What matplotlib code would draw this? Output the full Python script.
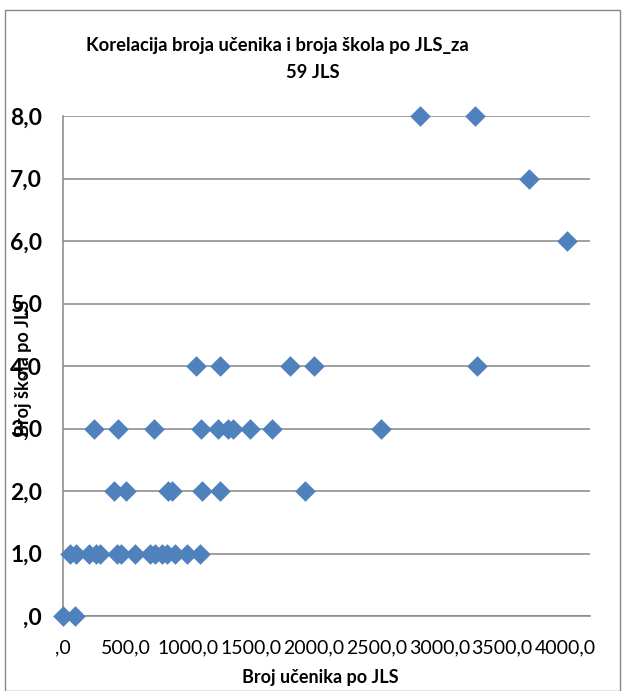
import matplotlib
matplotlib.use("Agg")
import matplotlib.pyplot as plt
from matplotlib.patches import Rectangle
from matplotlib.ticker import MultipleLocator, FuncFormatter

# Data (broj učenika, broj škola)
row0_x = [0, 95]
row1_x = [56, 103, 207, 262, 294, 429, 461, 573, 692, 732, 787, 827, 891, 986, 1089]
row2_x = [406, 501, 837, 872, 1108, 1251, 1932]
row3_x = [247, 440, 726, 1097, 1235, 1315, 1354, 1487, 1664, 2534]
row4_x = [1058, 1254, 1813, 2004, 3303]
row6_x = [4013]
row7_x = [3716]
row8_x = [2844, 3282]

x_vals = row0_x + row1_x + row2_x + row3_x + row4_x + row6_x + row7_x + row8_x
y_vals = ([0] * len(row0_x) + [1] * len(row1_x) + [2] * len(row2_x) + [3] * len(row3_x)
          + [4] * len(row4_x) + [6] * len(row6_x) + [7] * len(row7_x) + [8] * len(row8_x))

title_line1 = "Korelacija broja učenika i broja škola po JLS_za"
title_line2 = "59 JLS"
x_label = "Broj učenika po JLS"
y_label = "Broj škola po JLS"

FONT = "Lato"
W, H = 623, 691
fig = plt.figure(figsize=(W / 100, H / 100), dpi=100)

# chart frame
fig.patches.append(Rectangle((5 / W, 0), 615 / W, (H - 10) / H, transform=fig.transFigure,
                             fill=False, edgecolor="#868686", lw=1.0))

ax = fig.add_axes([63 / W, (H - 616) / H, (590 - 63) / W, (616 - 116) / H])
ax.set_xlim(0, 4200)
ax.set_ylim(0, 8)

grid_c = "#868686"
ax.yaxis.set_major_locator(MultipleLocator(1))
ax.xaxis.set_major_locator(MultipleLocator(500))
ax.grid(axis="y", color=grid_c, lw=1.1)
ax.set_axisbelow(True)
for s in ["top", "right"]:
    ax.spines[s].set_visible(False)
ax.spines["left"].set_color(grid_c)
ax.spines["bottom"].set_color(grid_c)
ax.spines["left"].set_linewidth(1.1)
ax.spines["bottom"].set_linewidth(1.1)
ax.tick_params(length=0)


def fmt(v, pos):
    if v > 4000:
        return ""
    s = f"{v:.1f}".replace(".", ",")
    if s.startswith("0"):
        s = s[1:]
    return s


ax.xaxis.set_major_formatter(FuncFormatter(fmt))
ax.yaxis.set_major_formatter(FuncFormatter(fmt))

for lab in ax.get_xticklabels():
    lab.set_fontfamily(FONT)
    lab.set_fontsize(14)
for lab in ax.get_yticklabels():
    lab.set_fontfamily(FONT)
    lab.set_fontsize(16.5)
    lab.set_fontweight("bold")
ax.tick_params(axis="x", pad=17)
ax.tick_params(axis="y", pad=15)

ax.scatter(x_vals, y_vals, marker="D", s=110, color="#4F81BD", zorder=3, clip_on=False, linewidths=0)

fig.text(277 / W, 1 - 45 / H, title_line1, ha="center", va="center", fontsize=13.2,
         fontweight="bold", family=FONT)
fig.text(313 / W, 1 - 72 / H, title_line2, ha="center", va="center", fontsize=13.2,
         fontweight="bold", family=FONT)
fig.text(320 / W, 1 - 677 / H, x_label, ha="center", va="center", fontsize=13,
         fontweight="bold", family=FONT)
fig.text(23 / W, 1 - 368 / H, y_label, ha="center", va="center", rotation=90, fontsize=13,
         fontweight="bold", family=FONT)

fig.savefig("out.png", dpi=100)
